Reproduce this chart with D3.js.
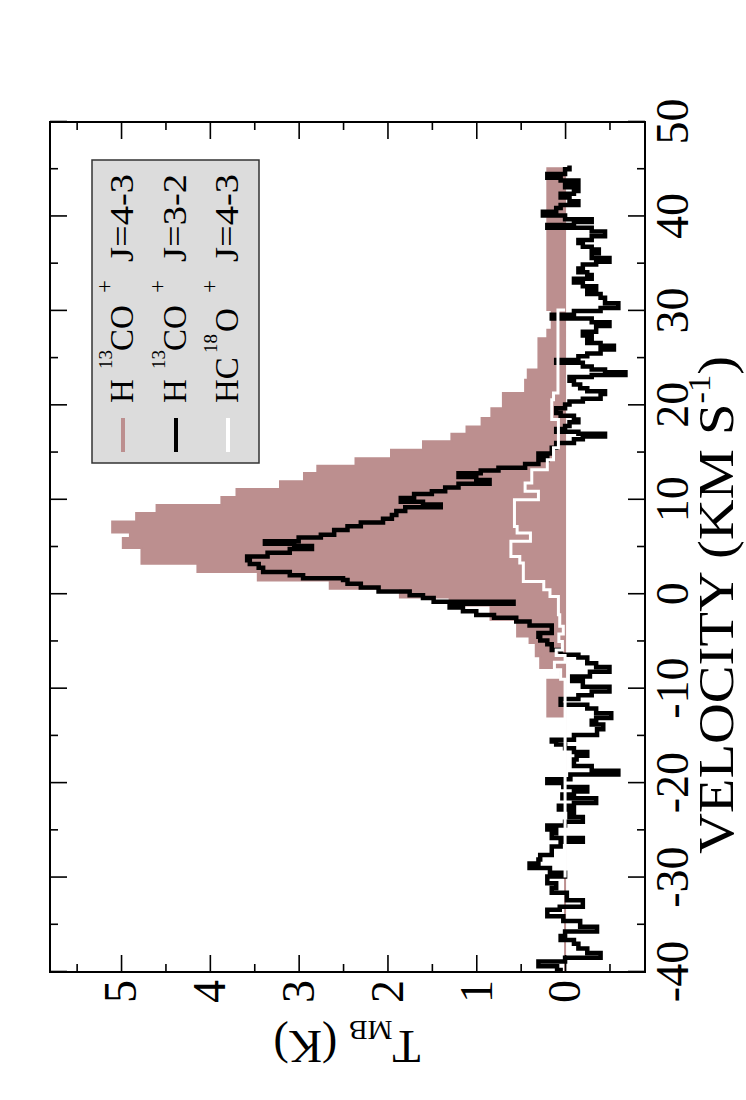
<!DOCTYPE html>
<html><head><meta charset="utf-8">
<script src="https://cdn.jsdelivr.net/npm/d3@7"></script>
<style>body{margin:0;background:#fff} svg{display:block}</style>
</head><body>
<svg id="c" width="746" height="1100"></svg>
<script>
// ---------- data ----------
const velDomain = [-40, 50];
const tDomain = [-0.9, 5.8];
const velTicks = [-40, -30, -20, -10, 0, 10, 20, 30, 40, 50];
const velMinor = [-35, -25, -15, -5, 5, 15, 25, 35, 45];
const tTicks = [0, 1, 2, 3, 4, 5];
const tMinor = [-0.5, 0.5, 1.5, 2.5, 3.5, 4.5, 5.5];

// H13CO+ J=4-3 : channel edges (km/s) and T_MB per channel (K)
const roseEdges = [-40, -12.94, -9.05, -7.81, -6.58, -5.17, -4.47, -2.70, -1.2, -0.35, 0.58, 1.46, 2.35, 3.23, 4.89, 5.95, 6.54, 7.71, 8.59, 9.44, 10.29, 11.14, 11.95, 12.83, 13.61, 14.4, 15.3, 16.2, 17.0, 17.77, 18.66, 19.7, 21.3, 22.7, 23.8, 27.1, 28.0, 30.1, 45.1];
const roseT = [0, 0.2, 0.05, 0.28, 0.33, 0.40, 0.54, 0.84, 1.30, 1.86, 2.65, 3.46, 4.14, 4.77, 4.98, 4.90, 5.10, 4.83, 4.60, 3.87, 3.70, 3.21, 2.94, 2.79, 2.36, 1.96, 1.60, 1.28, 1.11, 0.94, 0.83, 0.70, 0.45, 0.42, 0.30, 0.20, 0.15, 0.20];

// H13CO+ J=3-2 : channel start velocities and T_MB
const blackVel = [-40.0, -39.8, -39.4, -38.9, -38.5, -38.0, -37.5, -37.0, -36.6, -36.2, -35.7, -35.2, -34.6, -34.1, -33.4, -33.1, -32.4, -31.6, -31.1, -30.6, -29.9, -29.5, -29.0, -28.5, -28.1, -27.6, -26.7, -26.2, -25.8, -25.3, -24.9, -24.5, -24.1, -23.6, -23.2, -22.8, -22.4, -22.1, -21.6, -21.2, -20.9, -20.4, -20.0, -19.6, -19.1, -18.7, -18.2, -17.5, -17.1, -16.7, -16.3, -15.9, -15.6, -15.4, -14.9, -14.3, -13.8, -13.4, -13.1, -12.6, -12.1, -11.7, -11.1, -10.7, -10.3, -9.8, -9.2, -8.7, -8.2, -7.7, -7.3, -6.7, -6.4, -5.9, -5.3, -4.9, -4.5, -4.1, -3.7, -3.3, -2.9, -2.5, -2.2, -1.8, -1.4, -1.0, -0.8, -0.4, -0.1, 0.3, 0.7, 1.1, 1.5, 1.7, 2.0, 2.35, 2.8, 3.2, 3.6, 4.0, 4.4, 4.8, 5.1, 5.35, 5.6, 6.0, 6.3, 6.8, 7.2, 7.6, 8.0, 8.4, 8.8, 9.2, 9.5, 9.8, 10.2, 10.6, 10.9, 11.3, 11.7, 12.1, 12.4, 12.8, 13.1, 13.4, 13.8, 14.2, 14.5, 14.9, 15.5, 16.0, 16.4, 16.7, 17.0, 17.2, 17.5, 17.8, 18.2, 18.5, 18.9, 19.2, 19.7, 20.1, 20.4, 20.7, 21.2, 21.5, 21.8, 22.2, 22.6, 23.0, 23.2, 23.5, 23.8, 24.1, 24.5, 24.8, 25.2, 25.5, 25.9, 26.3, 26.6, 27.0, 27.4, 27.8, 28.4, 28.8, 29.2, 29.6, 30.0, 30.3, 30.8, 31.4, 31.8, 32.2, 32.6, 33.0, 33.4, 33.8, 34.1, 34.5, 34.9, 35.2, 35.6, 36.1, 36.5, 36.8, 37.2, 37.5, 37.9, 38.4, 38.8, 39.1, 39.4, 39.7, 40.1, 40.5, 40.9, 41.2, 41.6, 42.0, 42.4, 42.7, 43.1, 43.4, 43.8, 44.1, 44.5, 45.0, 45.4];
const blackT = [0.05, 0.09, 0.3, 0.0, -0.4, -0.25, -0.15, -0.1, 0.05, 0.0, -0.36, -0.17, 0.02, 0.2, 0.06, -0.2, -0.02, 0.15, 0.1, 0.2, 0.0, 0.17, 0.4, 0.3, 0.28, 0.15, 0.05, -0.2, 0.15, 0.1, 0.2, 0.0, -0.2, -0.05, -0.1, 0.07, -0.1, -0.35, 0.03, -0.1, -0.25, 0.02, 0.2, -0.06, -0.6, -0.3, -0.1, -0.13, -0.25, -0.1, 0.0, 0.1, 0.15, -0.1, -0.36, -0.43, -0.3, -0.35, -0.52, -0.35, -0.25, 0.05, -0.15, -0.3, -0.5, -0.2, -0.08, -0.28, -0.5, -0.35, -0.25, -0.15, 0.05, 0.15, 0.2, 0.28, 0.3, 0.15, 0.15, 0.4, 0.55, 0.8, 1.0, 1.15, 1.3, 0.58, 1.48, 1.6, 1.75, 2.1, 2.3, 2.45, 2.5, 2.95, 3.1, 3.4, 3.45, 3.55, 3.58, 3.35, 3.1, 2.85, 3.05, 3.38, 3.0, 2.75, 2.6, 2.45, 2.3, 2.05, 1.95, 1.9, 1.8, 1.4, 1.6, 1.85, 1.7, 1.5, 1.35, 1.2, 0.85, 1.0, 1.2, 0.95, 0.75, 0.45, 0.3, 0.2, 0.3, 0.15, 0.1, -0.1, -0.2, -0.45, -0.15, 0.1, 0.0, -0.05, -0.15, -0.1, 0.05, 0.1, 0.0, -0.05, -0.2, -0.4, -0.45, -0.25, -0.17, -0.1, -0.05, -0.3, -0.68, -0.45, -0.3, -0.2, 0.1, -0.15, -0.25, -0.4, -0.55, -0.4, -0.25, -0.3, -0.2, -0.35, -0.5, -0.3, 0.15, -0.1, -0.4, -0.6, -0.45, -0.4, -0.25, -0.35, -0.2, -0.1, -0.3, -0.25, -0.15, -0.2, -0.35, -0.5, -0.3, -0.38, -0.3, -0.2, -0.15, -0.3, -0.45, -0.3, 0.2, -0.1, -0.3, 0.0, 0.25, 0.1, 0.05, -0.15, -0.05, 0.05, -0.1, -0.15, 0.0, -0.15, 0.05, 0.2, 0.0, -0.05, -0.05];

// HC18O+ J=4-3 : channel start velocities and T_MB
const whiteVel = [-30.0, -9.0, -8.0, -7.2, -6.5, -5.9, -5.0, -4.2, -3.4, -2.17, -0.23, 0.47, 1.36, 3.30, 4.0, 5.6, 6.48, 7.18, 10.0, 10.9, 11.77, 13.18, 14.24, 15.5, 18.5, 20.6, 21.3, 30.1];
const whiteT = [0, 0.05, 0.12, 0.0, 0.1, 0.03, 0.07, 0.02, 0.06, 0.075, 0.17, 0.24, 0.47, 0.51, 0.61, 0.39, 0.54, 0.57, 0.30, 0.45, 0.375, 0.2, 0.13, 0.075, 0.15, 0.13, 0.08, 0.0];

const seriesColors = ["#bc8f8f", "#000000", "#ffffff"];
const legendRows = [
  [["H", 0], ["13", 1], ["CO", 0], ["+", 1], ["J=4-3", 0]],
  [["H", 0], ["13", 1], ["CO", 0], ["+", 1], ["J=3-2", 0]],
  [["HC", 0], ["18", 1], ["O", 0], ["+", 1], ["J=4-3", 0]]
];
const xTitle = ["VELOCITY (KM S", "-1", ")"];
const yTitle = ["T", "MB", " (K)"];

// ---------- drawing ----------
const FONT = '"Liberation Serif", "Times New Roman", serif';
const W = 850, H = 595;
const svg = d3.select("#c");
const g = svg.append("g").attr("transform", "translate(50,972) rotate(-90)");
const x = d3.scaleLinear().domain(velDomain).range([0, W]);
const y = d3.scaleLinear().domain(tDomain).range([H, 0]);

// rose filled histogram
const rosePts = roseT.map((t, i) => [roseEdges[i], t]);
rosePts.push([roseEdges[roseEdges.length - 1], roseT[roseT.length - 1]]);
g.append("path").datum(rosePts)
  .attr("d", d3.area().x(d => x(d[0])).y0(y(0)).y1(d => y(d[1])).curve(d3.curveStepAfter))
  .attr("fill", seriesColors[0]).attr("stroke", seriesColors[0]).attr("stroke-width", 2);

const line = d3.line().x(d => x(d[0])).y(d => y(d[1])).curve(d3.curveStepAfter);
const blackPts = blackVel.map((v, i) => [v, blackT[i]]);
g.append("path").datum(blackPts).attr("d", line)
  .attr("fill", "none").attr("stroke", seriesColors[1]).attr("stroke-width", 4.5)
  .attr("stroke-linejoin", "miter");
const whitePts = whiteVel.map((v, i) => [v, whiteT[i]]);
g.append("path").datum(whitePts).attr("d", line)
  .attr("fill", "none").attr("stroke", seriesColors[2]).attr("stroke-width", 3)
  .attr("stroke-linejoin", "miter");

// axes
function styleAxis(sel) {
  sel.select(".domain").remove();
  sel.selectAll("line").attr("stroke", "#000").attr("stroke-width", 1.6);
  sel.selectAll("text").attr("fill", "#000").style("font-family", FONT).style("font-size", "46px");
}
const fmt = d => String(d);
g.append("g").attr("transform", `translate(0,${H})`)
  .call(d3.axisBottom(x).tickValues(velTicks).tickSizeInner(-17).tickSizeOuter(0).tickPadding(10).tickFormat(fmt))
  .call(styleAxis);
g.append("g").attr("transform", `translate(0,${H})`)
  .call(d3.axisBottom(x).tickValues(velMinor).tickSizeInner(-8).tickSizeOuter(0).tickFormat(""))
  .call(styleAxis);
g.append("g")
  .call(d3.axisTop(x).tickValues(velTicks).tickSizeInner(-17).tickSizeOuter(0).tickFormat(""))
  .call(styleAxis);
g.append("g")
  .call(d3.axisTop(x).tickValues(velMinor).tickSizeInner(-8).tickSizeOuter(0).tickFormat(""))
  .call(styleAxis);
g.append("g")
  .call(d3.axisLeft(y).tickValues(tTicks).tickSizeInner(-17).tickSizeOuter(0).tickPadding(8).tickFormat(fmt))
  .call(styleAxis);
g.append("g")
  .call(d3.axisLeft(y).tickValues(tMinor).tickSizeInner(-8).tickSizeOuter(0).tickFormat(""))
  .call(styleAxis);
g.append("g").attr("transform", `translate(${W},0)`)
  .call(d3.axisRight(y).tickValues(tTicks).tickSizeInner(-17).tickSizeOuter(0).tickFormat(""))
  .call(styleAxis);
g.append("g").attr("transform", `translate(${W},0)`)
  .call(d3.axisRight(y).tickValues(tMinor).tickSizeInner(-8).tickSizeOuter(0).tickFormat(""))
  .call(styleAxis);

g.append("rect").attr("x", 0).attr("y", 0).attr("width", W).attr("height", H)
  .attr("fill", "none").attr("stroke", "#000").attr("stroke-width", 2);

// x title (slightly wide, as in the reference)
const xt = g.append("g").attr("transform", "translate(367,683) scale(1.11,1)")
  .append("text").attr("x", 0).attr("y", 0).attr("text-anchor", "middle")
  .style("font-family", FONT).style("font-size", "51px").attr("fill", "#000");
xt.append("tspan").text(xTitle[0]);
xt.append("tspan").attr("dy", -23).style("font-size", "31px").text(xTitle[1]);
xt.append("tspan").attr("dy", 23).text(xTitle[2]);

// y title
const yt = g.append("text").attr("transform", "translate(-59,297) rotate(-90)").attr("text-anchor", "middle")
  .style("font-family", FONT).style("font-size", "46px").attr("fill", "#000");
yt.append("tspan").text(yTitle[0]);
yt.append("tspan").attr("dy", 10).style("font-size", "28px").text(yTitle[1]);
yt.append("tspan").attr("dy", -10).text(yTitle[2]);

// legend
const lg = g.append("g");
lg.append("rect").attr("x", 509).attr("y", 42).attr("width", 303).attr("height", 167)
  .attr("fill", "#dcdcdc").attr("stroke", "#333").attr("stroke-width", 1.5);
const rowY = [73, 126, 178];
const pieceX = [[569, 603, 621, 679, 710], [569, 603, 621, 679, 710], [569, 619, 640, 679, 710]];
legendRows.forEach((row, i) => {
  lg.append("line").attr("x1", 520).attr("x2", 554).attr("y1", rowY[i]).attr("y2", rowY[i])
    .attr("stroke", seriesColors[i]).attr("stroke-width", 4);
  row.forEach((p, j) => {
    const t = lg.append("text").attr("x", pieceX[i][j]).attr("y", rowY[i] + 10 - (p[1] ? 21 : 0))
      .style("font-family", FONT).style("font-size", p[1] ? (p[0] === "+" ? "23px" : "19px") : "33px")
      .attr("fill", "#000").text(p[0]);
    if (j === 4) t.attr("textLength", 88).attr("lengthAdjust", "spacingAndGlyphs");
  });
});
</script>
</body></html>
